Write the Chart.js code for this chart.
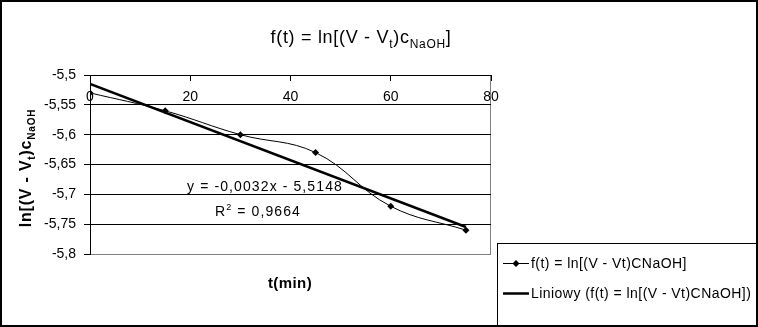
<!DOCTYPE html>
<html>
<head>
<meta charset="utf-8">
<script src="https://cdn.jsdelivr.net/npm/chart.js@4.4.1/dist/chart.umd.min.js"></script>
<style>
  body { margin: 0; background: #fff; }
  canvas { display: block; }
</style>
</head>
<body>
<canvas id="kinChart" width="758" height="327"></canvas>
<script>
const timeMin = [0, 15, 30, 45, 60, 75];
const lnValues = [-5.53, -5.56, -5.60, -5.63, -5.72, -5.76];
const trendX = [0, 75];
const trendY = [-5.5148, -5.7548];
const xTickValues = [0, 20, 40, 60, 80];
const xTickLabels = ['0', '20', '40', '60', '80'];
const yTickValues = [-5.8, -5.75, -5.7, -5.65, -5.6, -5.55, -5.5];
const yTickLabels = ['-5,8', '-5,75', '-5,7', '-5,65', '-5,6', '-5,55', '-5,5'];
const seriesLabels = ['f(t) = ln[(V - Vt)CNaOH]', 'Liniowy (f(t) = ln[(V - Vt)CNaOH])'];
// text runs: 0 normal, 1 subscript, 2 superscript
const titleRuns = [['f(t) = ln[(V - V', 0], ['t', 1], [')c', 0], ['NaOH', 1], [']', 0]];
const yTitleRuns = [['ln[(V - V', 0], ['t', 1], [')c', 0], ['NaOH', 1]];
const xTitle = 't(min)';
const eqRuns = [['y = -0,0032x - 5,5148', 0]];
const r2Runs = [['R', 0], ['2', 2], [' = 0,9664', 0]];

const FAMILY = '"Liberation Sans", Arial, sans-serif';
Chart.defaults.font.family = FAMILY;
Chart.defaults.color = '#000';

function drawRuns(ctx, runs, x, y, size, weight, spacing) {
  const fontFor = r => `${weight} ${r[1] ? Math.round(size * 0.65) : size}px ${FAMILY}`;
  ctx.letterSpacing = spacing + 'px';
  let total = 0;
  const widths = runs.map(r => {
    ctx.font = fontFor(r);
    const w = ctx.measureText(r[0]).width;
    total += w;
    return w;
  });
  let cx = x - total / 2;
  ctx.textAlign = 'left';
  ctx.textBaseline = 'alphabetic';
  runs.forEach((r, i) => {
    ctx.font = fontFor(r);
    const dy = r[1] === 1 ? size * 0.25 : r[1] === 2 ? -size * 0.42 : 0;
    ctx.fillText(r[0], cx, y + dy);
    cx += widths[i];
  });
  ctx.letterSpacing = '0px';
}

const decor = {
  id: 'decor',
  beforeDraw(chart) {
    const { ctx, chartArea: a } = chart;
    ctx.save();
    ctx.fillStyle = '#fff';
    ctx.fillRect(0, 0, chart.width, chart.height);
    ctx.strokeStyle = '#808080';
    ctx.lineWidth = 1;
    ctx.beginPath();
    ctx.moveTo(a.right - 0.5, a.top);
    ctx.lineTo(a.right - 0.5, a.bottom);
    ctx.stroke();
    ctx.restore();
  },
  afterDraw(chart) {
    const { ctx } = chart;
    ctx.save();
    ctx.fillStyle = '#000';
    drawRuns(ctx, titleRuns, 361, 43, 18, 'normal', 0.7);

    ctx.save();
    ctx.translate(31, 168);
    ctx.rotate(-Math.PI / 2);
    drawRuns(ctx, yTitleRuns, 0, 0, 16, 'bold', 0.8);
    ctx.restore();

    drawRuns(ctx, [[xTitle, 0]], 290, 288, 15, 'bold', 0.4);
    drawRuns(ctx, eqRuns, 265, 190.5, 14, 'normal', 1.1);
    drawRuns(ctx, r2Runs, 258, 216, 14, 'normal', 1.1);

    // legend
    ctx.fillStyle = '#fff';
    ctx.fillRect(497.5, 243.5, 259, 82);
    ctx.strokeStyle = '#000';
    ctx.lineWidth = 1;
    ctx.strokeRect(497.5, 243.5, 259, 82);
    const rows = [263, 293];
    chart.data.datasets.forEach((ds, i) => {
      const y = rows[i];
      ctx.strokeStyle = '#000';
      ctx.lineWidth = ds.borderWidth;
      ctx.beginPath();
      ctx.moveTo(503, y + 0.5);
      ctx.lineTo(529, y + 0.5);
      ctx.stroke();
      if (ds.pointRadius > 0) {
        ctx.fillStyle = '#000';
        ctx.beginPath();
        ctx.moveTo(516, y + 0.5 - 3.5);
        ctx.lineTo(519.5, y + 0.5);
        ctx.lineTo(516, y + 4);
        ctx.lineTo(512.5, y + 0.5);
        ctx.closePath();
        ctx.fill();
      }
      ctx.fillStyle = '#000';
      ctx.font = `14px ${FAMILY}`;
      ctx.letterSpacing = '0.45px';
      ctx.textAlign = 'left';
      ctx.textBaseline = 'middle';
      ctx.fillText(ds.label, 531, y + 1);
      ctx.letterSpacing = '0px';
    });

    // outer frame
    ctx.strokeStyle = '#000';
    ctx.lineWidth = 2;
    ctx.strokeRect(1, 1, 756, 325);
    ctx.restore();
  }
};

const ctx = document.getElementById('kinChart').getContext('2d');
const kinChart = new Chart(ctx, {
  type: 'scatter',
  data: {
    datasets: [{
      label: seriesLabels[0],
      data: timeMin.map((t, i) => ({ x: t, y: lnValues[i] })),
      showLine: true,
      tension: 0.4,
      borderColor: '#000',
      backgroundColor: '#000',
      borderWidth: 1,
      pointStyle: 'rectRot',
      pointRadius: 3.5,
      pointBorderWidth: 0,
      order: 1
    }, {
      label: seriesLabels[1],
      data: trendX.map((t, i) => ({ x: t, y: trendY[i] })),
      showLine: true,
      tension: 0,
      borderColor: '#000',
      backgroundColor: '#000',
      borderWidth: 2.5,
      pointRadius: 0,
      order: 0
    }]
  },
  options: {
    responsive: false,
    devicePixelRatio: 1,
    animation: false,
    events: [],
    layout: {
      padding: { top: 75, left: 0, right: 267, bottom: 73 }
    },
    plugins: {
      legend: { display: false },
      title: { display: false },
      tooltip: { enabled: false }
    },
    scales: {
      x: {
        type: 'linear',
        axis: 'x',
        position: { y: -5.5 },
        min: 0,
        max: 80,
        afterBuildTicks: s => { s.ticks = xTickValues.map(v => ({ value: v })); },
        afterFit: s => { s.height = 0; },
        ticks: {
          padding: 9,
          maxRotation: 0,
          autoSkip: false,
          font: { size: 14 },
          callback: v => xTickLabels[xTickValues.indexOf(v)]
        },
        grid: {
          drawOnChartArea: false,
          color: '#000',
          tickLength: 5
        },
        border: { display: true, color: '#000', width: 1 }
      },
      y: {
        type: 'linear',
        position: 'left',
        min: -5.8,
        max: -5.5,
        afterBuildTicks: s => { s.ticks = yTickValues.map(v => ({ value: v })); },
        afterFit: s => { s.width = 90; },
        ticks: {
          padding: 8,
          autoSkip: false,
          font: { size: 14 },
          callback: v => yTickLabels[yTickValues.indexOf(v)]
        },
        grid: {
          color: c => (c.tick && c.tick.value === -5.8 ? '#808080' : '#000'),
          tickColor: '#000',
          tickLength: 6,
          lineWidth: 1
        },
        border: { display: true, color: '#000', width: 1 }
      }
    }
  },
  plugins: [decor]
});
</script>
</body>
</html>
